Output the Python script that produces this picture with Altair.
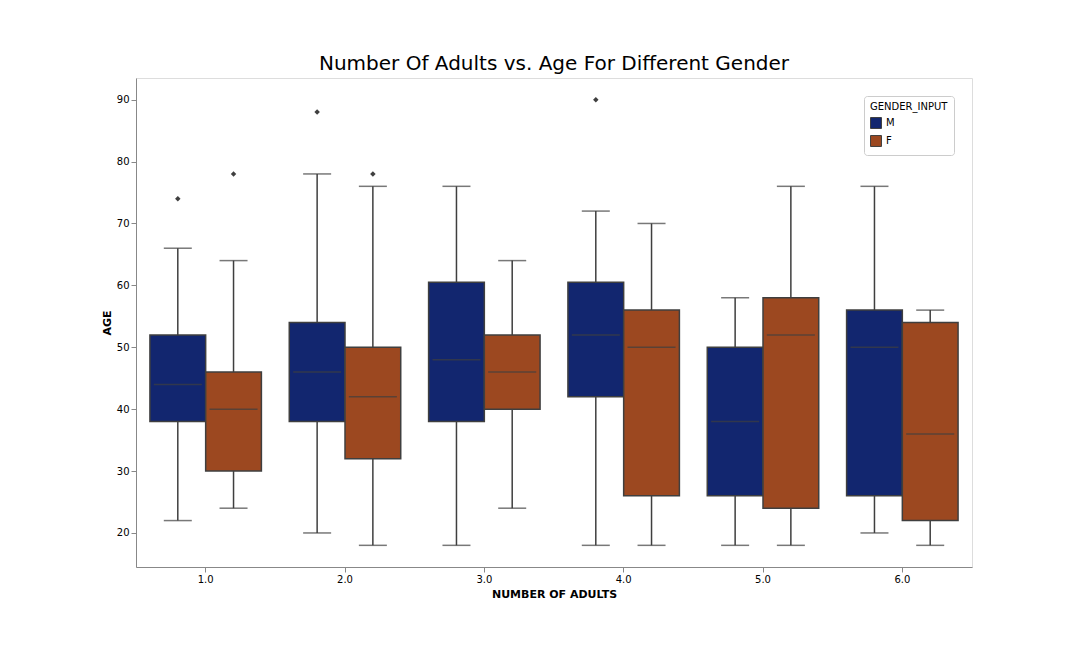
import altair as alt
import pandas as pd

adults = ["1.0", "2.0", "3.0", "4.0", "5.0", "6.0"]
genders = ["M", "F"]

# per group, M then F
lower = [22, 24, 20, 18, 18, 24, 18, 18, 18, 18, 20, 18]
q1 = [38, 30, 38, 32, 38, 40, 42, 26, 26, 24, 26, 22]
median = [44, 40, 46, 42, 48, 46, 52, 50, 38, 52, 50, 36]
q3 = [52, 46, 54, 50, 60.5, 52, 60.5, 56, 50, 58, 56, 54]
upper = [66, 64, 78, 76, 76, 64, 72, 70, 58, 76, 76, 56]

out_adults = ["1.0", "1.0", "2.0", "2.0", "4.0"]
out_gender = ["M", "F", "M", "F", "M"]
out_age = [74, 78, 88, 78, 90]

rows = []
i = 0
for a in adults:
    for g in genders:
        rows.append({"adults": a, "gender": g, "lower": lower[i], "q1": q1[i],
                     "median": median[i], "q3": q3[i], "upper": upper[i]})
        i += 1
df = pd.DataFrame(rows)
df_out = pd.DataFrame({"adults": out_adults, "gender": out_gender, "age": out_age})

EDGE = "#3f3f3f"
color = alt.Color(
    "gender:N",
    scale=alt.Scale(domain=genders, range=["#12266f", "#9c4820"]),
    legend=alt.Legend(title="GENDER_INPUT", orient="top-right", symbolType="square",
                      fillColor="white", strokeColor="#cccccc", padding=6,
                      cornerRadius=3, titleFontWeight="normal", titleFontSize=10,
                      labelFontSize=10, symbolSize=120, symbolStrokeColor=EDGE,
                      symbolStrokeWidth=1),
)
x = alt.X("adults:N", sort=adults, title="NUMBER OF ADULTS",
          scale=alt.Scale(paddingInner=0.2, paddingOuter=0.1),
          axis=alt.Axis(labelAngle=0, grid=False))
xo = alt.XOffset("gender:N", sort=genders, scale=alt.Scale(domain=genders, paddingInner=0, paddingOuter=0))
yscale = alt.Scale(domain=[14.5, 93.5], nice=False, zero=False)
yaxis = alt.Axis(values=list(range(20, 100, 10)), grid=False)

base = alt.Chart(df).encode(x=x, xOffset=xo)

whisk_lo = base.mark_rule(color=EDGE, strokeWidth=1.5).encode(
    y=alt.Y("lower:Q", scale=yscale, axis=yaxis, title="AGE"), y2="q1:Q")
whisk_hi = base.mark_rule(color=EDGE, strokeWidth=1.5).encode(y=alt.Y("q3:Q"), y2="upper:Q")
cap_lo = base.mark_tick(color=EDGE, size=28, thickness=1.5, orient="horizontal").encode(y="lower:Q")
cap_hi = base.mark_tick(color=EDGE, size=28, thickness=1.5, orient="horizontal").encode(y="upper:Q")
box = base.mark_bar(stroke=EDGE, strokeWidth=1.5).encode(y="q1:Q", y2="q3:Q", color=color)
med = base.mark_tick(color=EDGE, size=48, thickness=1.5, orient="horizontal").encode(y="median:Q")
outl = alt.Chart(df_out).mark_point(shape="diamond", filled=True, color=EDGE, size=30, opacity=1).encode(
    x=x, xOffset=xo, y="age:Q")

chart = (
    alt.layer(whisk_lo, whisk_hi, cap_lo, cap_hi, box, med, outl)
    .properties(
        width=836, height=489,
        title=alt.TitleParams("Number Of Adults vs. Age For Different Gender",
                              fontSize=20, fontWeight="normal", offset=4, color="black"),
        autosize=alt.AutoSizeParams(type="none"),
        padding={"left": 128, "top": 70, "right": 100, "bottom": 80},
    )
    .configure_view(stroke="black", strokeWidth=1)
    .configure_axis(labelFontSize=10, titleFontSize=12, titleFontWeight="normal",
                    labelColor="black", titleColor="black", domain=False, tickColor="black")
    .configure(font="DejaVu Sans")
)
chart.save("out.html", embed_options={"renderer": "svg", "actions": False})
